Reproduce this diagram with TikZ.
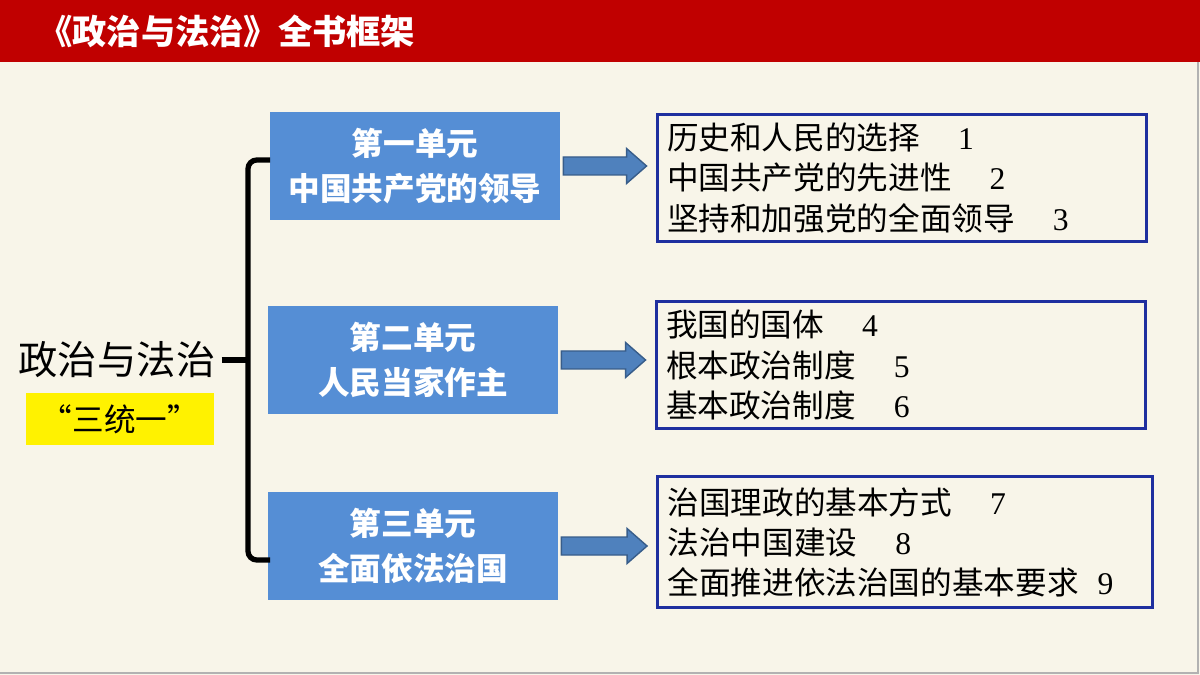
\documentclass[tikz,border=0pt]{standalone}
\usepackage{fontspec}
\setmainfont{Liberation Serif}
\newfontfamily\cjk{Noto Sans CJK SC}
\usepackage{xcolor}
\usepackage{tikz}
\usetikzlibrary{calc, positioning}

\definecolor{cream}{HTML}{F8F5E9}
\definecolor{titlered}{HTML}{C00000}
\definecolor{unitblue}{HTML}{558ED5}
\definecolor{arrowblue}{HTML}{4F81BD}
\definecolor{arrowedge}{HTML}{385D8A}
\definecolor{detailblue}{HTML}{1F2F9F}

\begin{document}
\begin{tikzpicture}[x=0.02cm, y=-0.02cm, font=\cjk]
\tikzstyle{unit} = [fill=unitblue, text=white, align=center, minimum width=5.8cm, minimum height=2.16cm, font=\cjk\bfseries\fontsize{18}{25.6}\selectfont]
\tikzstyle{detail} = [draw=detailblue, line width=1.7pt, align=left, text width=9.4cm, inner xsep=0.2cm, minimum height=2.56cm, font=\fontsize{18}{22.8}\selectfont]
\tikzstyle{brace} = [draw=black, line width=3pt, rounded corners=5pt]
\tikzstyle{blockarrow} = [fill=arrowblue, draw=arrowedge, line width=0.8pt]

% background and title bar
\useasboundingbox (0,0) rectangle (1200,675);
\fill[cream] (0,0) rectangle (1200,675);
\draw[gray!60, line width=0.6pt] (0,673) -- (1198,673) -- (1198,62);
\fill[titlered] (0,0) rectangle (1200,62);
\node[anchor=west, inner sep=0, text=white, font=\cjk\bfseries\fontsize{19.5}{24}\selectfont] (title) at (38,31) {《政治与法治》全书框架};

% left side
\node[inner sep=0, font=\cjk\fontsize{22.4}{26}\selectfont] (root) at (117,360) {政治与法治};
\node[fill=yellow, minimum width=3.78cm, minimum height=1.04cm, font=\cjk\fontsize{18}{20}\selectfont] (tag) at (120,419) {“三统一”};

% units
\node[unit] at (415,166) (b1) {第一单元\\中国共产党的领导};
\node[unit] at (413,360) (b2) {第二单元\\人民当家作主};
\node[unit] at (413,546) (b3) {第三单元\\全面依法治国};

% lessons
\node[detail] at (902,178) (d1) {{\cjk 历史和人民的选择}\hspace{1.2em}1\\{\cjk 中国共产党的先进性}\hspace{1.2em}2\\{\cjk 坚持和加强党的全面领导}\hspace{1.2em}3};
\node[detail] at (901,365) (d2) {{\cjk 我国的国体}\hspace{1.2em}4\\{\cjk 根本政治制度}\hspace{1.2em}5\\{\cjk 基本政治制度}\hspace{1.2em}6};
\node[detail, text width=9.5cm, minimum height=2.64cm] at (905,542) (d3) {{\cjk 治国理政的基本方式}\hspace{1.2em}7\\{\cjk 法治中国建设}\hspace{1.2em}8\\{\cjk 全面推进依法治国的基本要求}\hspace{0.6em}9};

% brace
\coordinate (br) at (248,360);
\coordinate (top) at (270,160);
\coordinate (bot) at (270,560);
\draw[brace] (top) -| (br) |- (bot);
\draw[brace] ($(root.east)+(6,0)$) -- (br);

% block arrows
\foreach \i in {1,2,3}
  \draw[blockarrow] ($(b\i.east)+(3,-9)$) -- ($(b\i.east-|d\i.west)+(-29,-9)$) -- ($(b\i.east-|d\i.west)+(-29,-17.5)$)
    -- ($(b\i.east-|d\i.west)+(-9,0)$) -- ($(b\i.east-|d\i.west)+(-29,17.5)$) -- ($(b\i.east-|d\i.west)+(-29,9)$)
    -- ($(b\i.east)+(3,9)$) -- cycle;
\end{tikzpicture}
\end{document}
